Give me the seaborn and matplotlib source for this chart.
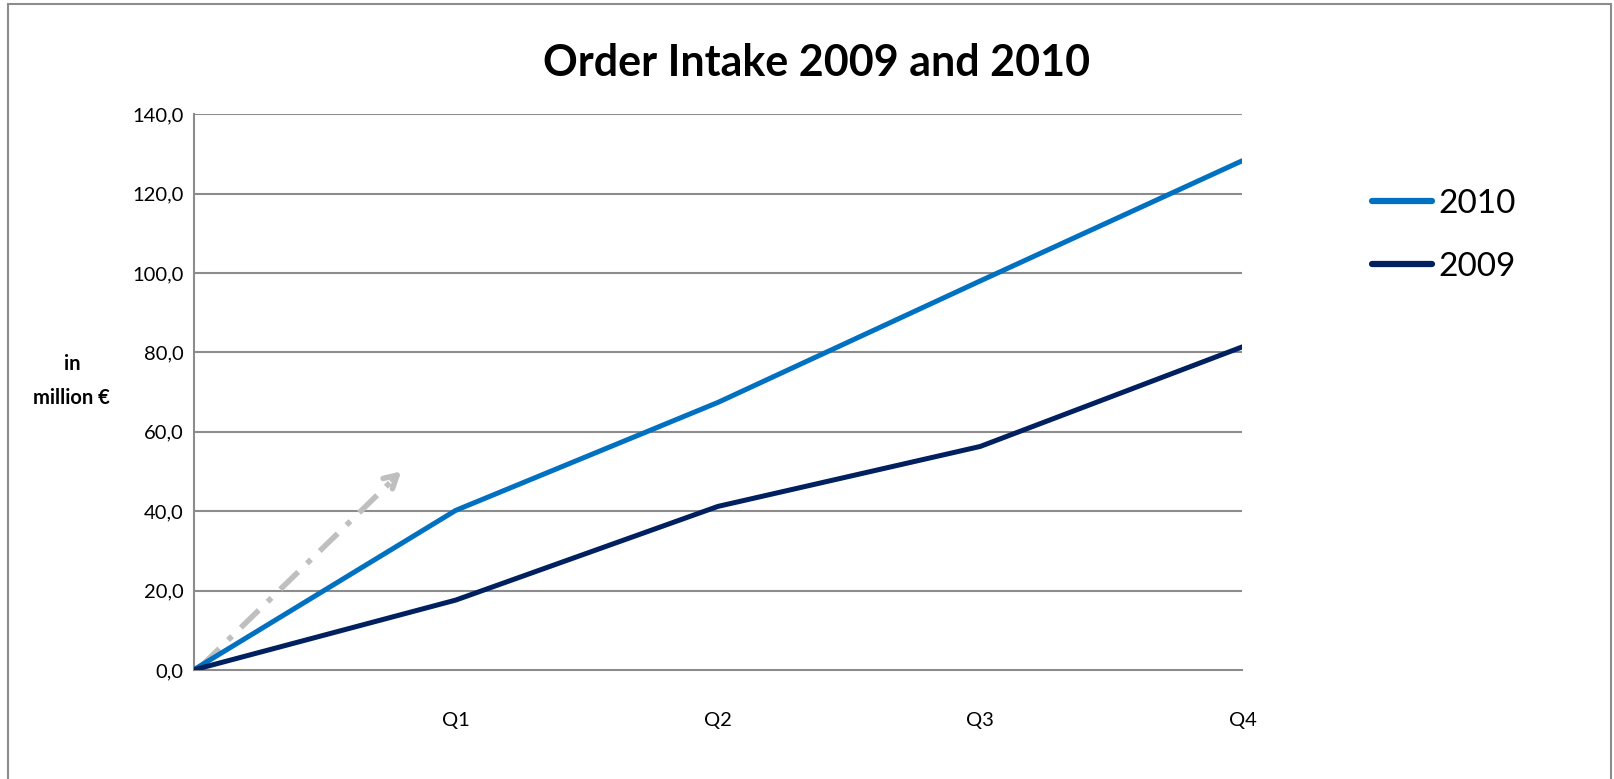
import matplotlib
matplotlib.use("Agg")
import matplotlib.pyplot as plt
import seaborn as sns
import pandas as pd
from matplotlib.patches import Rectangle

# data
quarters = ["", "Q1", "Q2", "Q3", "Q4"]
intake_2010 = [0.0, 40.2, 67.4, 98.0, 128.3]
intake_2009 = [0.0, 17.6, 41.2, 56.3, 81.4]
y_ticks = [0, 20, 40, 60, 80, 100, 120, 140]
arrow_start = (0.03, 1.0)
arrow_end = (0.80, 50.5)

sns.set_style("white")
plt.rcParams["font.family"] = ["Lato", "DejaVu Sans"]
plt.rcParams["text.color"] = "black"
plt.rcParams["xtick.color"] = "black"
plt.rcParams["ytick.color"] = "black"
plt.rcParams["axes.labelcolor"] = "black"

df = pd.DataFrame({
    "pos": list(range(len(quarters))) * 2,
    "value": intake_2010 + intake_2009,
    "year": ["2010"] * len(quarters) + ["2009"] * len(quarters),
})

fig = plt.figure(figsize=(16.14, 7.79), dpi=100)
ax = fig.add_axes([0.1199, 0.140, 0.6499, 0.7134])

# frame around the whole chart
fig.patches.append(Rectangle((0.005, -0.02), 0.993, 1.015, transform=fig.transFigure,
                             fill=False, edgecolor="#8c8c8c", linewidth=1.5))

for y in y_ticks[1:]:
    ax.axhline(y, color="#8c8c8c", linewidth=1.5, zorder=0)

# grey dash-dot trend arrow
ax.plot([arrow_start[0], arrow_end[0] - 0.03], [arrow_start[1], arrow_end[1] - 2.0],
        color="#bfbfbf", linewidth=4, linestyle=(0, (4.5, 2.2, 1.0, 2.2)),
        solid_capstyle="butt", zorder=1)
ax.annotate("", xy=arrow_end, xytext=(arrow_end[0] - 0.05, arrow_end[1] - 3.0),
            arrowprops=dict(arrowstyle="->,head_length=0.9,head_width=0.5",
                            color="#bfbfbf", lw=4), zorder=1)

sns.lineplot(data=df, x="pos", y="value", hue="year",
             palette={"2010": "#0070c0", "2009": "#002060"},
             linewidth=3.6, ax=ax, legend=True, zorder=3)
for line in ax.lines[-2:]:
    line.set_solid_capstyle("round")

ax.set_xlim(0, len(quarters) - 1)
ax.set_ylim(0, 140)
ax.set_yticks(y_ticks)
ax.set_yticklabels([f"{v:.1f}".replace(".", ",") for v in y_ticks], fontsize=14.5)
ax.set_xticks(range(len(quarters)))
ax.set_xticklabels(quarters, fontsize=14.5)
ax.tick_params(axis="x", pad=30, length=0)
ax.tick_params(axis="y", pad=7, length=0)
ax.set_xlabel("")
ax.set_ylabel("in\nmillion €", rotation=0, fontsize=14.5, fontweight="bold",
              ha="center", va="center", linespacing=1.9)
ax.yaxis.set_label_coords(-0.116, 0.52)

for side in ["top", "right"]:
    ax.spines[side].set_visible(False)
for side in ["left", "bottom"]:
    ax.spines[side].set_color("#8c8c8c")
    ax.spines[side].set_linewidth(1.5)

fig.suptitle("Order Intake 2009 and 2010", fontsize=31, fontweight="bold",
             x=0.506, y=0.945)

leg = ax.legend(loc="upper left", bbox_to_anchor=(1.095, 0.92), frameon=False,
                fontsize=24, handlelength=1.8, handletextpad=0.2, labelspacing=1.0)
for h in leg.get_lines():
    h.set_linewidth(4.5)
    h.set_solid_capstyle("round")

fig.savefig("out.png", dpi=100)
